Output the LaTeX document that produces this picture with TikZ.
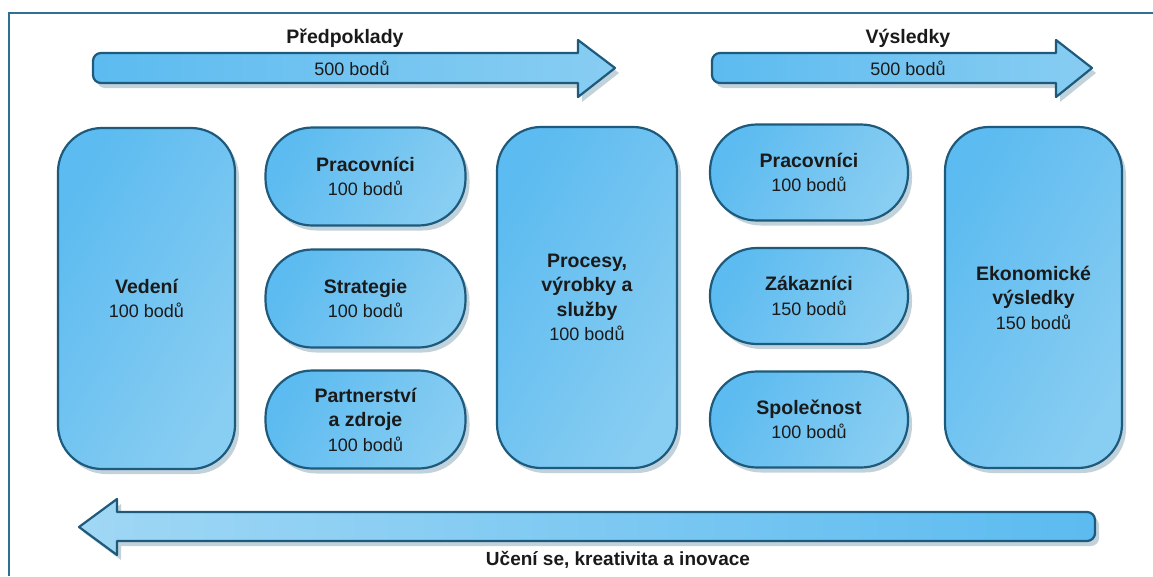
\documentclass[tikz,border=0pt]{standalone}
\usepackage{fontspec}
\setmainfont{Liberation Sans}
\usetikzlibrary{shadows}
\definecolor{edge}{HTML}{1D5A7C}
\definecolor{fillA}{HTML}{5CBBF0}
\definecolor{fillB}{HTML}{88CDF2}
\definecolor{shad}{HTML}{A9BFCD}
\definecolor{frame}{HTML}{2F6F93}
\definecolor{ink}{HTML}{1A1A1A}
\newcommand{\ttlx}[1]{{\fontsize{19.5}{24.5}\selectfont\bfseries #1}}
\newcommand{\ptsx}[1]{{\fontsize{18}{24.5}\selectfont #1}}
\tikzset{
  x=1pt, y=1pt,
  boxbase/.style={draw=edge, line width=2.2pt, left color=fillA, right color=fillB,
    shading angle=60, text=ink, align=center, inner sep=0pt,
    font=\fontsize{18}{24.5}\selectfont,
    drop shadow={shadow xshift=4pt, shadow yshift=-5pt, fill=shad, opacity=0.7}},
  tallbox/.style={boxbase, rounded corners=44pt, minimum width=177pt, minimum height=341pt},
  pillbox/.style={boxbase, rounded corners=47pt, minimum width=200pt, minimum height=98pt},
  arrowbody/.style={draw=edge, line width=2.2pt, left color=fillA, right color=fillB, line join=round,
    drop shadow={shadow xshift=4pt, shadow yshift=-5pt, fill=shad, opacity=0.7}},
  lbl/.style={text=ink, inner sep=0pt, font=\fontsize{18}{22}\selectfont}
}
\begin{document}
\begin{tikzpicture}
\useasboundingbox (0,0) rectangle (1153,-576);
\fill[white] (0,0) rectangle (1153,-576);
% frame
\draw[frame, line width=2pt] (1153,-13) -- (9,-13) -- (9,-576);
% arrow 1
\draw[arrowbody] (93,-68) [rounded corners=8pt] -- (93,-53) -- (200,-53) [sharp corners] -- (578,-53) -- (578,-40) -- (615,-68) -- (578,-97) -- (578,-83) -- (200,-83) [rounded corners=8pt] -- (93,-83) -- cycle;
\node[lbl, font=\fontsize{19.5}{22}\selectfont\bfseries] (pre) at (345,-38) {Předpoklady};
\node[lbl] (pre500) at (352,-68) {500 bodů};
% arrow 2
\draw[arrowbody] (712,-68) [rounded corners=8pt] -- (712,-53) -- (800,-53) [sharp corners] -- (1056,-53) -- (1056,-40) -- (1092,-68) -- (1056,-97) -- (1056,-83) -- (800,-83) [rounded corners=8pt] -- (712,-83) -- cycle;
\node[lbl, font=\fontsize{19.5}{22}\selectfont\bfseries] (vys) at (908,-38) {Výsledky};
\node[lbl] (vys500) at (908,-68) {500 bodů};
% bottom arrow
\draw[arrowbody, left color=fillB!80!white, right color=fillA] (1095,-527) [rounded corners=8pt] -- (1095,-512) -- (1000,-512) [sharp corners] -- (117,-512) -- (117,-499) -- (79,-527) -- (117,-555) -- (117,-541) -- (1000,-541) [rounded corners=8pt] -- (1095,-541) -- cycle;
\node[lbl, font=\fontsize{19}{22}\selectfont\bfseries] (uceni) at (618,-560) {Učení se, kreativita a inovace};
% boxes
\node[tallbox] (vedeni) at (146.5,-298.5) {\ttlx{Vedení}\\\ptsx{100 bodů}};
\node[pillbox] (prac1) at (365.5,-176.5) {\ttlx{Pracovníci}\\\ptsx{100 bodů}};
\node[pillbox] (strat) at (365.5,-298.5) {\ttlx{Strategie}\\\ptsx{100 bodů}};
\node[pillbox] (partn) at (365.5,-419.5) {\ttlx{Partnerství}\\\ttlx{a zdroje}\\\ptsx{100 bodů}};
\node[tallbox, minimum width=180pt] (proc) at (587,-297.5) {\ttlx{Procesy,}\\\ttlx{výrobky a}\\\ttlx{služby}\\\ptsx{100 bodů}};
\node[pillbox, minimum width=198pt, minimum height=96pt] (prac2) at (809,-172.5) {\ttlx{Pracovníci}\\\ptsx{100 bodů}};
\node[pillbox, minimum width=198pt, minimum height=96pt] (zak) at (809,-296) {\ttlx{Zákazníci}\\\ptsx{150 bodů}};
\node[pillbox, minimum width=198pt, minimum height=96pt] (spol) at (809,-419.5) {\ttlx{Společnost}\\\ptsx{100 bodů}};
\node[tallbox] (eko) at (1033.5,-297.5) {\ttlx{Ekonomické}\\\ttlx{výsledky}\\\ptsx{150 bodů}};
\end{tikzpicture}
\end{document}
